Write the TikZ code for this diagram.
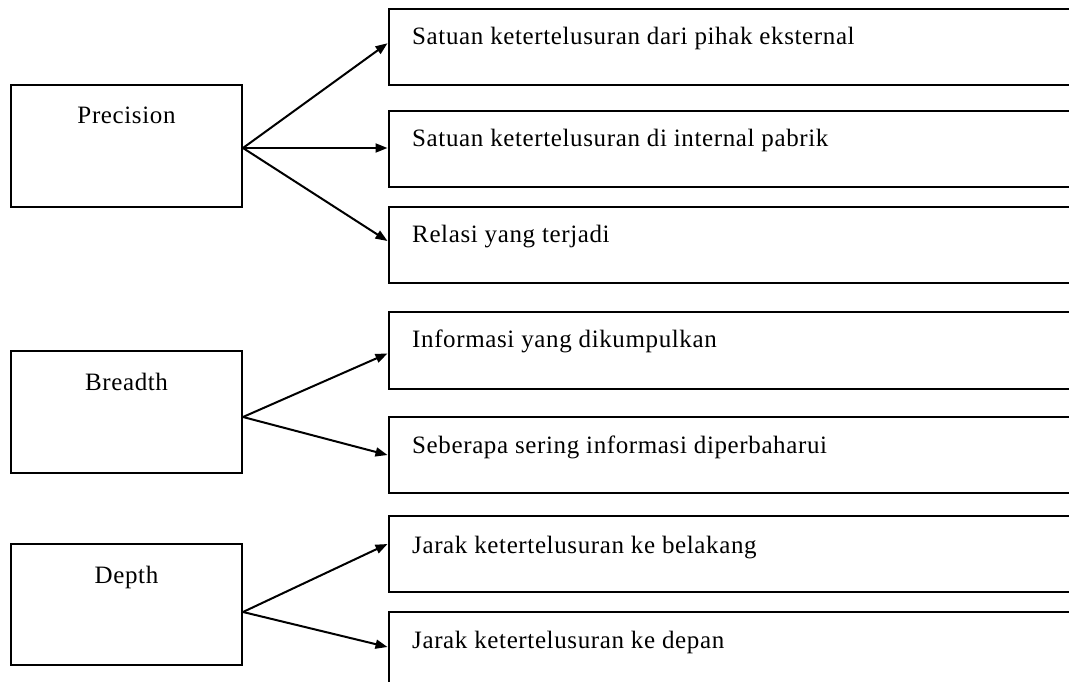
\documentclass[tikz,border=0pt]{standalone}
\usepackage{fontspec}
\setmainfont{Liberation Serif}[LetterSpace=2.5]
\usetikzlibrary{arrows.meta}
\begin{document}
\begin{tikzpicture}[x=1pt,y=-1pt,
  box/.style={draw,line width=2pt,rectangle,inner sep=0pt,anchor=center},
  lbox/.style={box,minimum width=231pt,minimum height=122pt},
  rbox/.style={box,minimum width=811.5pt,minimum height=76pt},
  ltxt/.style={anchor=base,inner sep=0pt,font=\fontsize{25}{29}\selectfont},
  rtxt/.style={anchor=base west,inner sep=0pt,font=\fontsize{25}{29}\selectfont},
  arr/.style={line width=2pt,-{Triangle[length=12pt,width=9pt]}}]
\clip (0,0) rectangle (1069,682);
\fill[white] (0,0) rectangle (1069,682);
% left boxes
\node[lbox] (prec) at (126.5,146) {};
\node[lbox] (bread) at (126.5,412) {};
\node[lbox,minimum height=121pt] (depth) at (126.5,604.5) {};
\node[ltxt] (precT) at (126.5,124) {Precision};
\node[ltxt] (breadT) at (126.5,390) {Breadth};
\node[ltxt] (depthT) at (126.5,583) {Depth};
% right boxes
\node[rbox,minimum height=75.5pt] (r1) at (794.25,47.25) {};
\node[rbox] (r2) at (794.25,149) {};
\node[rbox] (r3) at (794.25,245) {};
\node[rbox,minimum height=77pt] (r4) at (794.25,350.5) {};
\node[rbox] (r5) at (794.25,455) {};
\node[rbox] (r6) at (794.25,554) {};
\node[rbox] (r7) at (794.25,650) {};
\node[rtxt] (r1T) at (412,45) {Satuan ketertelusuran dari pihak eksternal};
\node[rtxt] (r2T) at (412,147) {Satuan ketertelusuran di internal pabrik};
\node[rtxt] (r3T) at (412,243) {Relasi yang terjadi};
\node[rtxt] (r4T) at (412,347) {Informasi yang dikumpulkan};
\node[rtxt] (r5T) at (412,453) {Seberapa sering informasi diperbaharui};
\node[rtxt] (r6T) at (412,553) {Jarak ketertelusuran ke belakang};
\node[rtxt] (r7T) at (412,648) {Jarak ketertelusuran ke depan};
% connectors
\coordinate (po) at ([yshift=-2pt]prec.east);
\coordinate (bo) at ([yshift=-5pt]bread.east);
\coordinate (do) at ([yshift=-7.5pt]depth.east);
\draw[arr] (po) -- ([yshift=4pt]r1.west);
\draw[arr] (po) -- ([yshift=1pt]r2.west);
\draw[arr] (po) -- ([yshift=4pt]r3.west);
\draw[arr] (bo) -- ([yshift=-3pt]r4.west);
\draw[arr] (bo) -- ([yshift=0pt]r5.west);
\draw[arr] (do) -- ([yshift=10pt]r6.west);
\draw[arr] (do) -- ([yshift=3pt]r7.west);
\end{tikzpicture}
\end{document}
